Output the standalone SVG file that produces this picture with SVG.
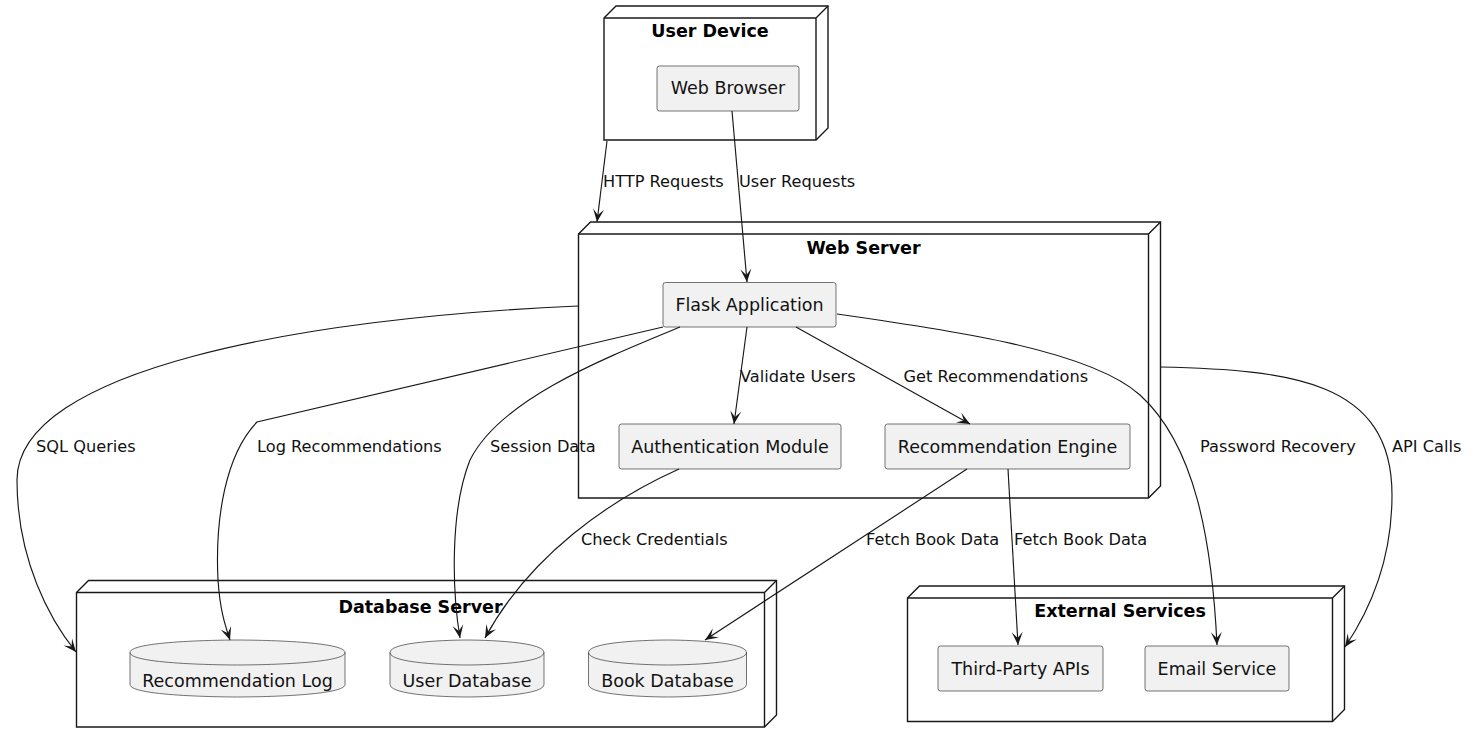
<svg xmlns="http://www.w3.org/2000/svg" width="1475" height="745" viewBox="0 0 1475 745">
<style>
.node{fill:#ffffff;stroke:#181818;stroke-width:1.4}
.nline{fill:none;stroke:#181818;stroke-width:1.4}
.title{font-family:"DejaVu Sans",sans-serif;font-size:17.5px;font-weight:bold;fill:#000;text-anchor:middle}
.comp{fill:#F1F1F1;stroke:#181818;stroke-width:0.6}
.ctext{font-family:"DejaVu Sans",sans-serif;font-size:17.5px;fill:#111;text-anchor:middle}
.edge{fill:none;stroke:#181818;stroke-width:1.15}
.lbl{font-family:"DejaVu Sans",sans-serif;font-size:16.2px;fill:#111}
</style>
<defs>
<marker id="ah" viewBox="-14 -7 16 14" refX="0" refY="0" markerWidth="16" markerHeight="14" orient="auto" markerUnits="userSpaceOnUse">
<path d="M0,0 L-13,-5.5 L-7,0 L-13,5.5 Z" fill="#181818"/>
</marker>
</defs>
<rect width="1475" height="745" fill="#ffffff"/>

<g id="user-device">
<polygon class="node" points="604,18 616,6 828,6 828,128 816,140 604,140"/>
<path class="nline" d="M816,18 L828,6 M604,18 L816,18 M816,18 L816,140"/>
<text class="title" x="710" y="37">User Device</text>
</g>
<g id="web-browser">
<rect class="comp" x="657" y="66" width="142" height="45" rx="2.5"/>
<text class="ctext" x="728" y="94">Web Browser</text>
</g>

<g id="web-server">
<polygon class="node" points="578.5,234 590.5,222 1160.5,222 1160.5,486 1148.5,498 578.5,498"/>
<path class="nline" d="M1148.5,234 L1160.5,222 M578.5,234 L1148.5,234 M1148.5,234 L1148.5,498"/>
<text class="title" x="863.5" y="254">Web Server</text>
</g>
<g id="flask-app">
<rect class="comp" x="663" y="282.5" width="173" height="44.5" rx="2.5"/>
<text class="ctext" x="749.5" y="311">Flask Application</text>
</g>
<g id="auth-module">
<rect class="comp" x="619" y="424" width="222" height="45" rx="2.5"/>
<text class="ctext" x="730" y="452.5">Authentication Module</text>
</g>
<g id="rec-engine">
<rect class="comp" x="885" y="424" width="245" height="45" rx="2.5"/>
<text class="ctext" x="1007.5" y="452.5">Recommendation Engine</text>
</g>

<g id="database-server">
<polygon class="node" points="76.5,592.5 88.5,580.5 776.5,580.5 776.5,715 764.5,727 76.5,727"/>
<path class="nline" d="M764.5,592.5 L776.5,580.5 M76.5,592.5 L764.5,592.5 M764.5,592.5 L764.5,727"/>
<text class="title" x="420.5" y="612.5">Database Server</text>
</g>
<g id="recommendation-log">
<path class="comp" d="M130,652.5 C130,640 237.5,640 237.5,640 C237.5,640 345,640 345,652.5 L345,684.5 C345,697 237.5,697 237.5,697 C237.5,697 130,697 130,684.5 Z"/>
<path class="comp" style="fill:none" d="M130,652.5 C130,665 237.5,665 237.5,665 C237.5,665 345,665 345,652.5"/>
<text class="ctext" x="237.5" y="687">Recommendation Log</text>
</g>
<g id="user-database">
<path class="comp" d="M390,652.5 C390,640 467,640 467,640 C467,640 544,640 544,652.5 L544,684.5 C544,697 467,697 467,697 C467,697 390,697 390,684.5 Z"/>
<path class="comp" style="fill:none" d="M390,652.5 C390,665 467,665 467,665 C467,665 544,665 544,652.5"/>
<text class="ctext" x="467" y="687">User Database</text>
</g>
<g id="book-database">
<path class="comp" d="M588.5,652.5 C588.5,640 667.5,640 667.5,640 C667.5,640 746.5,640 746.5,652.5 L746.5,684.5 C746.5,697 667.5,697 667.5,697 C667.5,697 588.5,697 588.5,684.5 Z"/>
<path class="comp" style="fill:none" d="M588.5,652.5 C588.5,665 667.5,665 667.5,665 C667.5,665 746.5,665 746.5,652.5"/>
<text class="ctext" x="667.5" y="687">Book Database</text>
</g>

<g id="external-services">
<polygon class="node" points="907.5,598 919.5,586 1344.5,586 1344.5,709.5 1332.5,721.5 907.5,721.5"/>
<path class="nline" d="M1332.5,598 L1344.5,586 M907.5,598 L1332.5,598 M1332.5,598 L1332.5,721.5"/>
<text class="title" x="1120" y="617">External Services</text>
</g>
<g id="third-party-apis">
<rect class="comp" x="938" y="646" width="165" height="45" rx="2.5"/>
<text class="ctext" x="1020.5" y="674.5">Third-Party APIs</text>
</g>
<g id="email-service">
<rect class="comp" x="1145" y="646" width="144" height="45" rx="2.5"/>
<text class="ctext" x="1217" y="674.5">Email Service</text>
</g>

<g id="connectors">
<path class="edge" marker-end="url(#ah)" d="M607,141 L597,222"/>
<text class="lbl" x="603" y="187">HTTP Requests</text>
<path class="edge" marker-end="url(#ah)" d="M732,111 L747,282"/>
<text class="lbl" x="739" y="187">User Requests</text>
<path class="edge" marker-end="url(#ah)" d="M747,327 L734,424"/>
<text class="lbl" x="740" y="382">Validate Users</text>
<path class="edge" marker-end="url(#ah)" d="M796,327 L970,424"/>
<text class="lbl" x="903.5" y="382">Get Recommendations</text>
<path class="edge" marker-end="url(#ah)" d="M578,306 C300,318 17,370 17,480 C17,560 50,620 76,652"/>
<text class="lbl" x="36" y="452">SQL Queries</text>
<path class="edge" marker-end="url(#ah)" d="M663,327 L257,422 C225,455 215,520 218,580 C220,610 225,625 230,640"/>
<text class="lbl" x="257" y="452">Log Recommendations</text>
<path class="edge" marker-end="url(#ah)" d="M680,327 C600,360 500,400 470,460 C450,510 452,590 460,638"/>
<text class="lbl" x="490" y="452">Session Data</text>
<path class="edge" marker-end="url(#ah)" d="M679,469 C610,500 530,555 485,638"/>
<text class="lbl" x="581" y="545">Check Credentials</text>
<path class="edge" marker-end="url(#ah)" d="M967,469 L705,640"/>
<text class="lbl" x="866" y="545">Fetch Book Data</text>
<path class="edge" marker-end="url(#ah)" d="M1008,469 L1018,645"/>
<text class="lbl" x="1014" y="545">Fetch Book Data</text>
<path class="edge" marker-end="url(#ah)" d="M837,314 C950,330 1090,350 1140,395 C1195,445 1212,540 1217,645"/>
<text class="lbl" x="1200" y="452">Password Recovery</text>
<path class="edge" marker-end="url(#ah)" d="M1160,367 C1290,370 1392,380 1392,495 C1392,560 1370,610 1345,647"/>
<text class="lbl" x="1392" y="452">API Calls</text>
</g>
</svg>
